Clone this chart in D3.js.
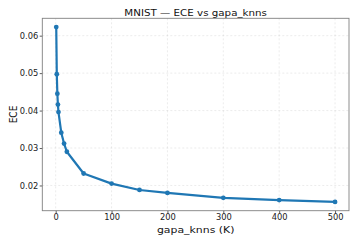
<!DOCTYPE html>
<html><head><meta charset="utf-8">
<script src="https://cdn.jsdelivr.net/npm/d3@7"></script>
<style>body{margin:0;background:#fff}svg{display:block}</style>
</head><body>
<script>
const kValues = [1, 2, 3, 4, 5, 10, 15, 20, 50, 100, 150, 200, 300, 400, 500];
const eceValues = [0.0623, 0.0497, 0.0445, 0.0416, 0.0396, 0.0341, 0.0312, 0.0290, 0.0232, 0.0205, 0.0188, 0.0180, 0.0167, 0.0161, 0.0156];
const xTicks = [0, 100, 200, 300, 400, 500];
const yTicks = [0.02, 0.03, 0.04, 0.05, 0.06];
const title = "MNIST — ECE vs gapa_knns";
const xLabel = "gapa_knns (K)";
const yLabel = "ECE";

const W = 357, H = 243;
const L = 42.3, R = 349, T = 18.3, B = 210.7;
const font = "DejaVu Sans, sans-serif";
const svg = d3.select("body").append("svg").attr("width", W).attr("height", H);

const xmin = d3.min(kValues), xmax = d3.max(kValues);
const ymin = d3.min(eceValues), ymax = d3.max(eceValues);
const xm = (xmax - xmin) * 0.05, ym = (ymax - ymin) * 0.05;
const x = d3.scaleLinear().domain([xmin - xm, xmax + xm]).range([L, R]);
const y = d3.scaleLinear().domain([ymin - ym, ymax + ym]).range([B, T]);

// grid
const g = svg.append("g");
g.selectAll(".gx").data(xTicks).join("line")
  .attr("x1", d => x(d)).attr("x2", d => x(d)).attr("y1", T).attr("y2", B)
  .attr("stroke", "#b0b0b0").attr("stroke-opacity", 0.35).attr("stroke-width", 0.7).attr("stroke-dasharray", "2,2");
g.selectAll(".gy").data(yTicks).join("line")
  .attr("y1", d => y(d)).attr("y2", d => y(d)).attr("x1", L).attr("x2", R)
  .attr("stroke", "#b0b0b0").attr("stroke-opacity", 0.35).attr("stroke-width", 0.7).attr("stroke-dasharray", "2,2");

// axes
const xAxis = svg.append("g").attr("transform", `translate(0,${B})`)
  .call(d3.axisBottom(x).tickValues(xTicks).tickSize(2.6).tickPadding(0.8).tickFormat(d3.format("d")));
const yAxis = svg.append("g").attr("transform", `translate(${L},0)`)
  .call(d3.axisLeft(y).tickValues(yTicks).tickSize(2.6).tickPadding(1.4).tickFormat(d3.format(".2f")));
[xAxis, yAxis].forEach(a => {
  a.select(".domain").remove();
  a.selectAll(".tick line").attr("stroke", "#333").attr("stroke-width", 0.8);
  a.selectAll("text").attr("font-family", font).attr("font-size", 8.3).attr("fill", "#222");
});

// frame
svg.append("rect").attr("x", L).attr("y", T).attr("width", R - L).attr("height", B - T)
  .attr("fill", "none").attr("stroke", "#808080").attr("stroke-width", 0.9);

// line
const data = kValues.map((k, i) => ({k, v: eceValues[i]}));
svg.append("path").datum(data)
  .attr("d", d3.line().x(d => x(d.k)).y(d => y(d.v)))
  .attr("fill", "none").attr("stroke", "#1f77b4").attr("stroke-width", 2.2).attr("stroke-linejoin", "round");
svg.selectAll(".pt").data(data).join("circle")
  .attr("cx", d => x(d.k)).attr("cy", d => y(d.v)).attr("r", 2.4).attr("fill", "#1f77b4");

// texts
svg.append("text").attr("transform", `translate(${(L + R) / 2},16) scale(1,0.93)`).attr("text-anchor", "middle")
  .attr("font-family", font).attr("font-size", 10.3).attr("fill", "#111").text(title);
svg.append("text").attr("transform", `translate(${(L + R) / 2},232.5) scale(1,0.85)`).attr("text-anchor", "middle")
  .attr("font-family", font).attr("font-size", 10.9).attr("fill", "#111").text(xLabel);
svg.append("text").attr("transform", `translate(16.5,${(T + B) / 2}) rotate(-90) scale(0.85,1)`).attr("text-anchor", "middle")
  .attr("font-family", font).attr("font-size", 10.6).attr("fill", "#111").text(yLabel);
</script>
</body></html>
